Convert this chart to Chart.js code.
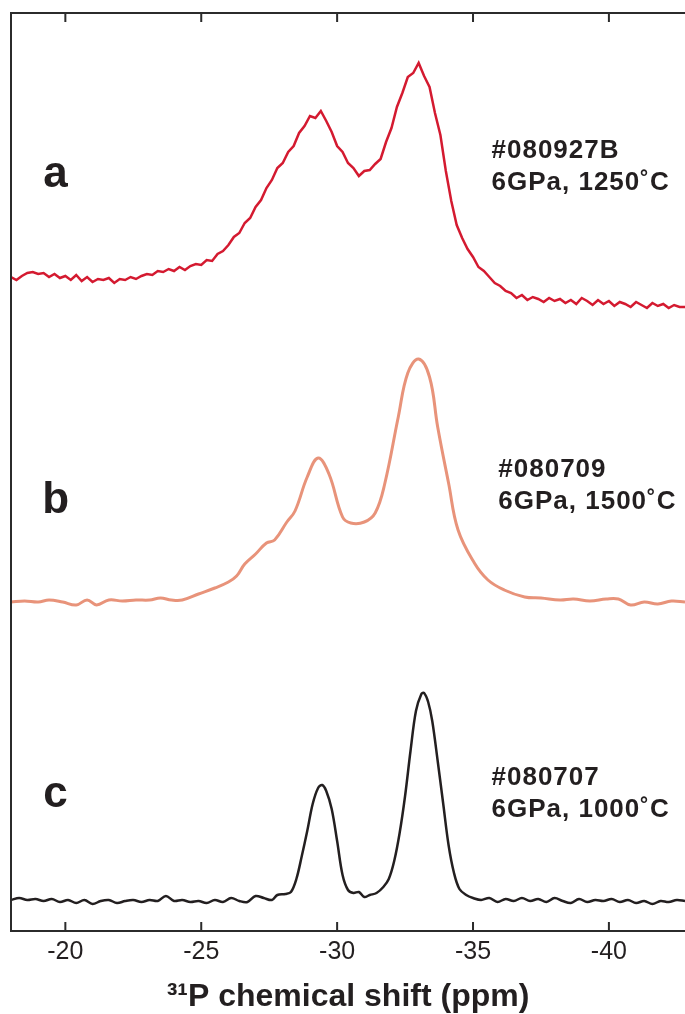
<!DOCTYPE html>
<html>
<head>
<meta charset="utf-8">
<script src="https://cdn.jsdelivr.net/npm/chart.js@4.4.0/dist/chart.umd.min.js"></script>
<style>
html, body { margin: 0; padding: 0; background: #fff; }
</style>
</head>
<body>
<canvas id="nmrChart" width="685" height="1014"></canvas>
<script>
// 31P MAS NMR spectra, stacked (ppm, stacked intensity)
const tickValues = [-20, -25, -30, -35, -40];

const spectrumA = [
    [-18.0, 654], [-18.2, 651], [-18.4, 655], [-18.6, 658], [-18.8, 659], [-19.0, 657],
    [-19.2, 658], [-19.4, 654], [-19.6, 657], [-19.8, 653], [-20.0, 655], [-20.2, 651],
    [-20.4, 656], [-20.6, 650], [-20.8, 654], [-21.0, 649], [-21.2, 652], [-21.4, 651],
    [-21.6, 653], [-21.8, 648], [-22.0, 652], [-22.2, 651], [-22.4, 654], [-22.6, 652],
    [-22.8, 655], [-23.0, 657], [-23.2, 656], [-23.4, 660], [-23.6, 659], [-23.8, 662],
    [-24.0, 660], [-24.2, 664], [-24.4, 661], [-24.6, 665], [-24.8, 667], [-25.0, 666],
    [-25.2, 671], [-25.4, 670], [-25.6, 677], [-25.8, 680], [-26.0, 686], [-26.2, 694],
    [-26.4, 698], [-26.6, 708], [-26.8, 713], [-27.0, 724], [-27.2, 731], [-27.4, 743],
    [-27.6, 751], [-27.8, 763], [-28.0, 768], [-28.2, 779], [-28.4, 785], [-28.6, 798],
    [-28.8, 805], [-29.0, 815], [-29.2, 813], [-29.4, 820], [-29.6, 810], [-29.8, 799],
    [-30.0, 785], [-30.2, 779], [-30.4, 768], [-30.6, 763], [-30.8, 755], [-31.0, 760],
    [-31.2, 761], [-31.4, 767], [-31.6, 772], [-31.8, 789], [-32.0, 803], [-32.2, 824],
    [-32.4, 838], [-32.6, 854], [-32.8, 858], [-33.0, 868], [-33.2, 855], [-33.4, 844],
    [-33.6, 818], [-33.8, 796], [-34.0, 760], [-34.2, 730], [-34.4, 706], [-34.6, 693],
    [-34.8, 682], [-35.0, 674], [-35.2, 664], [-35.4, 660], [-35.6, 654], [-35.8, 648],
    [-36.0, 645], [-36.2, 640], [-36.4, 638], [-36.6, 633], [-36.8, 636], [-37.0, 631],
    [-37.2, 634], [-37.4, 632], [-37.6, 629], [-37.8, 633], [-38.0, 630], [-38.2, 632],
    [-38.4, 628], [-38.6, 631], [-38.8, 627], [-39.0, 633], [-39.2, 630], [-39.4, 626],
    [-39.6, 631], [-39.8, 627], [-40.0, 630], [-40.2, 625], [-40.4, 629], [-40.6, 627],
    [-40.8, 624], [-41.0, 629], [-41.2, 626], [-41.4, 623], [-41.6, 628], [-41.8, 625],
    [-42.0, 627], [-42.2, 623], [-42.4, 626], [-42.6, 624], [-42.8, 624]
];

const spectrumB = [
    [-18.0, 329], [-18.5, 330], [-19.0, 329], [-19.4, 331], [-19.9, 329], [-20.4, 326],
    [-20.8, 331], [-21.15, 326], [-21.6, 331], [-22.1, 330], [-22.6, 331], [-23.1, 331],
    [-23.5, 333], [-23.9, 331], [-24.3, 331], [-24.9, 337], [-25.5, 343], [-26.0, 349],
    [-26.3, 355], [-26.6, 367], [-27.0, 377], [-27.4, 388], [-27.7, 391], [-28.15, 409],
    [-28.45, 420], [-28.9, 454], [-29.3, 473], [-29.7, 457], [-30.2, 414], [-30.5, 408],
    [-31.0, 409], [-31.4, 418], [-31.75, 447], [-32.25, 514], [-32.6, 558], [-33.0, 572],
    [-33.4, 554], [-33.7, 504], [-34.1, 448], [-34.45, 401], [-35.05, 368], [-35.55, 351],
    [-36.15, 341], [-36.9, 334], [-37.5, 333], [-38.2, 331], [-38.7, 332], [-39.3, 330],
    [-39.9, 332], [-40.35, 332], [-40.8, 326], [-41.3, 329], [-41.8, 327], [-42.3, 330],
    [-42.8, 329]
];

const spectrumC = [
    [-18.0, 31], [-18.3, 33], [-18.6, 31], [-18.9, 32], [-19.2, 30], [-19.5, 32],
    [-19.8, 29], [-20.1, 31], [-20.4, 28], [-20.7, 31], [-21.0, 27], [-21.3, 30],
    [-21.6, 31], [-21.9, 28], [-22.2, 30], [-22.5, 31], [-22.8, 29], [-23.1, 31],
    [-23.4, 30], [-23.7, 35], [-24.0, 30], [-24.3, 31], [-24.6, 29], [-24.9, 30],
    [-25.2, 28], [-25.5, 31], [-25.8, 29], [-26.1, 33], [-26.4, 30], [-26.7, 29],
    [-27.0, 35], [-27.3, 33], [-27.6, 31], [-27.8, 36], [-28.1, 37], [-28.3, 39],
    [-28.5, 52], [-28.7, 75], [-28.9, 100], [-29.1, 127], [-29.3, 143], [-29.45, 146],
    [-29.6, 140], [-29.8, 122], [-30.0, 90], [-30.2, 56], [-30.4, 41], [-30.6, 38],
    [-30.8, 39], [-31.0, 34], [-31.2, 36], [-31.45, 38], [-31.7, 44], [-31.9, 52],
    [-32.1, 70], [-32.3, 98], [-32.5, 135], [-32.7, 180], [-32.9, 220], [-33.1, 237],
    [-33.2, 238], [-33.35, 229], [-33.5, 210], [-33.7, 170], [-33.9, 128], [-34.1, 86],
    [-34.3, 58], [-34.5, 42], [-34.75, 36], [-35.0, 33], [-35.3, 31], [-35.6, 33],
    [-35.9, 29], [-36.2, 32], [-36.5, 30], [-36.8, 33], [-37.1, 30], [-37.4, 32],
    [-37.7, 29], [-38.0, 33], [-38.3, 30], [-38.6, 28], [-38.9, 32], [-39.2, 29],
    [-39.5, 31], [-39.8, 30], [-40.1, 32], [-40.4, 29], [-40.7, 31], [-41.0, 28],
    [-41.3, 30], [-41.6, 27], [-41.9, 30], [-42.2, 29], [-42.5, 31], [-42.8, 30]
];

const panelLetters = ['a', 'b', 'c'];
const sampleIds = ['#080927B', '#080709', '#080707'];
const conditions = ['6GPa, 1250\u02DAC', '6GPa, 1500\u02DAC', '6GPa, 1000\u02DAC'];
const lineColors = ['#d41a30', '#e8937a', '#231f20'];

const textColor = '#231f20';
const toXY = arr => arr.map(p => ({ x: p[0], y: p[1] }));

// frame with inward ticks on top and bottom
const framePlugin = {
    id: 'frame',
    afterDatasetsDraw(chart) {
        const { ctx, chartArea } = chart;
        const xs = chart.scales.x;
        ctx.save();
        ctx.strokeStyle = '#2b2b2b';
        ctx.lineWidth = 2;
        ctx.beginPath();
        ctx.moveTo(chartArea.right + 2, chartArea.top);
        ctx.lineTo(chartArea.left, chartArea.top);
        ctx.lineTo(chartArea.left, chartArea.bottom);
        ctx.lineTo(chartArea.right + 2, chartArea.bottom);
        tickValues.forEach(v => {
            const px = xs.getPixelForValue(v);
            ctx.moveTo(px, chartArea.top);
            ctx.lineTo(px, chartArea.top + 9);
            ctx.moveTo(px, chartArea.bottom);
            ctx.lineTo(px, chartArea.bottom - 9);
        });
        ctx.stroke();
        ctx.restore();
    }
};

// panel letters and sample notes
const notesPlugin = {
    id: 'notes',
    afterDatasetsDraw(chart) {
        const { ctx } = chart;
        const xs = chart.scales.x, ys = chart.scales.y;
        const letterY = [744, 418, 124];
        const noteX = [-35.68, -35.93, -35.68];
        const noteY = [773, 454, 146];
        ctx.save();
        ctx.fillStyle = textColor;
        ctx.textBaseline = 'alphabetic';
        ctx.textAlign = 'center';
        ctx.font = 'bold 44px "Liberation Sans", Arial, sans-serif';
        panelLetters.forEach((l, i) => {
            ctx.fillText(l, xs.getPixelForValue(-19.64), ys.getPixelForValue(letterY[i]));
        });
        ctx.textAlign = 'left';
        ctx.font = 'bold 26px "Liberation Sans", Arial, sans-serif';
        ctx.letterSpacing = '1px';
        sampleIds.forEach((s, i) => {
            const px = xs.getPixelForValue(noteX[i]);
            const py = ys.getPixelForValue(noteY[i]);
            ctx.fillText(s, px, py);
            ctx.fillText(conditions[i], px, py + 32);
        });
        ctx.restore();
    }
};

const ctx = document.getElementById('nmrChart').getContext('2d');
new Chart(ctx, {
    type: 'line',
    data: {
        datasets: [spectrumA, spectrumB, spectrumC].map((s, i) => ({
            label: panelLetters[i],
            data: toXY(s),
            borderColor: lineColors[i],
            borderWidth: i === 1 ? 3 : 2.5,
            pointRadius: 0,
            fill: false,
            tension: i === 0 ? 0 : (i === 1 ? 0.4 : 0.35)
        }))
    },
    options: {
        responsive: false,
        animation: false,
        devicePixelRatio: 1,
        layout: { padding: { left: 11, top: 13, right: 0, bottom: 0 } },
        plugins: {
            legend: { display: false },
            tooltip: { enabled: false }
        },
        scales: {
            x: {
                type: 'linear',
                reverse: true,
                min: -42.8,
                max: -18,
                afterBuildTicks: scale => {
                    scale.ticks = tickValues.map(v => ({ value: v }));
                },
                afterFit: scale => { scale.height = 83; },
                grid: { display: false, drawTicks: false },
                border: { display: false },
                ticks: {
                    padding: 6,
                    maxRotation: 0,
                    color: textColor,
                    font: { family: '"Liberation Sans", Arial, sans-serif', size: 25 }
                },
                title: {
                    display: true,
                    text: '\u00B3\u00B9P chemical shift (ppm)',
                    color: textColor,
                    padding: { top: 0, bottom: -2 },
                    font: { family: '"Liberation Sans", Arial, sans-serif', size: 32, weight: 'bold' }
                }
            },
            y: {
                display: false,
                min: 0,
                max: 918
            }
        }
    },
    plugins: [framePlugin, notesPlugin]
});
</script>
</body>
</html>
